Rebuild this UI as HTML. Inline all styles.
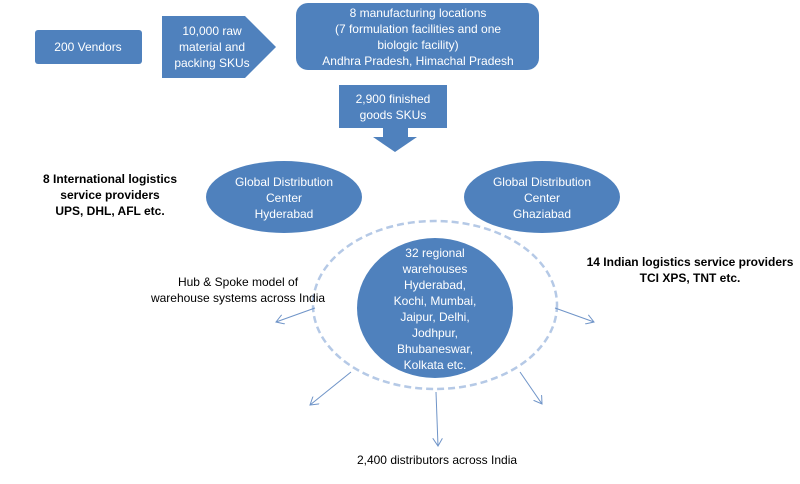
<!DOCTYPE html>
<html><head><style>
body{margin:0;background:#fff;width:800px;height:479px;overflow:hidden;font-family:"Liberation Sans",sans-serif}
</style></head><body>
<svg width="800" height="479" viewBox="0 0 800 479" xmlns="http://www.w3.org/2000/svg" font-family="Liberation Sans, sans-serif" font-size="12">
<defs><marker id="a" markerWidth="10" markerHeight="10" refX="8" refY="5" orient="auto" markerUnits="userSpaceOnUse"><path d="M0,0 L8,5 L0,10" fill="none" stroke="#6f94c8" stroke-width="1"/></marker></defs>
<g fill="#4f81bd">
<rect x="35" y="30" width="107" height="34" rx="3"/>
<path d="M162,16 H245 L276,47 L245,78 H162 Z"/>
<rect x="296" y="3" width="243" height="67" rx="12"/>
<rect x="339" y="85" width="108" height="43"/>
<path d="M383,128 H408 V137 H417 L395,152 L373,137 H383 Z"/>
<ellipse cx="284" cy="197" rx="78" ry="36"/>
<ellipse cx="542" cy="197" rx="78" ry="36"/>
<ellipse cx="435" cy="308" rx="78" ry="70"/>
</g>
<ellipse cx="435" cy="305" rx="122" ry="84" fill="none" stroke="#b5c9e6" stroke-width="2.5" stroke-dasharray="7,4"/>
<g stroke="#6f94c8" stroke-width="1" marker-end="url(#a)">
<line x1="315" y1="308" x2="276" y2="322"/>
<line x1="555" y1="308" x2="594" y2="322"/>
<line x1="351" y1="372" x2="310" y2="405"/>
<line x1="520" y1="372" x2="542" y2="404"/>
<line x1="436" y1="392" x2="438" y2="446"/>
</g>
<g fill="#fff" text-anchor="middle">
<text x="88" y="51">200 Vendors</text>
<text x="212" y="35">10,000 raw</text><text x="212" y="51">material and</text><text x="212" y="67">packing SKUs</text>
<text x="418" y="17">8 manufacturing locations</text><text x="418" y="33">(7 formulation facilities and one</text><text x="418" y="49">biologic facility)</text><text x="418" y="65">Andhra Pradesh, Himachal Pradesh</text>
<text x="393" y="103">2,900 finished</text><text x="393" y="119">goods SKUs</text>
<text x="284" y="186">Global Distribution</text><text x="284" y="202">Center</text><text x="284" y="218">Hyderabad</text>
<text x="542" y="186">Global Distribution</text><text x="542" y="202">Center</text><text x="542" y="218">Ghaziabad</text>
<text x="435" y="257">32 regional</text><text x="435" y="273">warehouses</text><text x="435" y="289">Hyderabad,</text><text x="435" y="305">Kochi, Mumbai,</text><text x="435" y="321">Jaipur, Delhi,</text><text x="435" y="337">Jodhpur,</text><text x="435" y="353">Bhubaneswar,</text><text x="435" y="369">Kolkata etc.</text>
</g>
<g fill="#000" text-anchor="middle">
<text x="110" y="183" font-weight="bold">8 International logistics</text><text x="110" y="199" font-weight="bold">service providers</text><text x="110" y="215" font-weight="bold">UPS, DHL,  AFL etc.</text>
<text x="690" y="266" font-weight="bold">14 Indian logistics service providers</text><text x="690" y="282" font-weight="bold">TCI XPS, TNT etc.</text>
<text x="238" y="286">Hub &amp; Spoke model of</text><text x="238" y="302">warehouse systems across India</text>
<text x="437" y="464">2,400 distributors across India</text>
</g>
</svg>
</body></html>
